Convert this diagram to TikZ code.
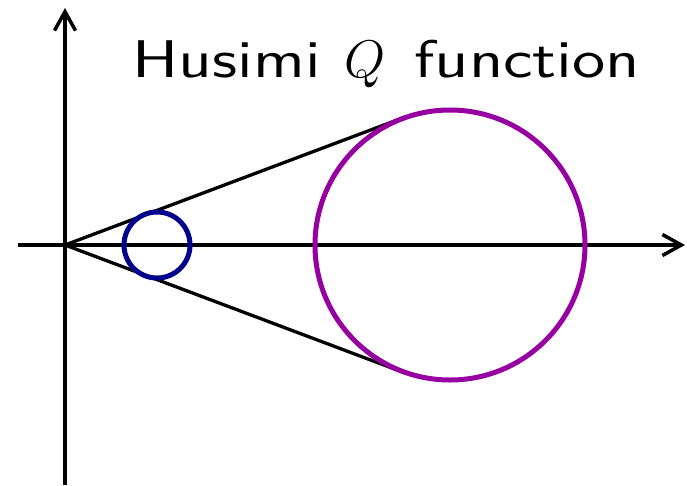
\RequirePackage{fix-cm}
\documentclass[tikz,border=0pt]{standalone}
\usepackage{fontspec}
\usepackage{graphicx}
\newfontfamily\titlefont{lmsans10-regular}[Extension=.otf]
\usetikzlibrary{arrows.meta,calc}
\definecolor{navyc}{RGB}{0,0,140}
\definecolor{purplec}{RGB}{150,0,160}
\begin{document}
\begin{tikzpicture}[x=1pt,y=-1pt,
  axis/.style={line width=3.5pt,-{Straight Barb[length=19pt,width=21pt,line width=3.5pt]}},
  tline/.style={line width=3.3pt},
  circ/.style={circle,line width=5pt,inner sep=0pt}]
\useasboundingbox (0,0) rectangle (687,485);
\coordinate (O) at (65,245);
\coordinate (xs) at (18,245);
\coordinate (xe) at (685,245);
\coordinate (ys) at (65,485);
\coordinate (ye) at (65,8);
\draw[axis] (xs) -- (xe);
\draw[axis] (ys) -- (ye);
\coordinate (tu) at (402.5,118);
\coordinate (tl) at (402.5,372);
\draw[tline] (O) -- (tu);
\draw[tline] (O) -- (tl);
\node[circ,draw=navyc,minimum size=66pt] (small) at (157,245) {};
\node[circ,draw=purplec,minimum size=270pt] (big) at (450,245) {};
\node[font=\titlefont\fontsize{53}{60}\selectfont,anchor=base west,inner sep=0pt] (title) at (132.5,77)
  {\resizebox{188pt}{\height}{Husimi}\hspace{23.5pt}$Q$\hspace{29pt}\resizebox{226pt}{\height}{function}};
\end{tikzpicture}
\end{document}
